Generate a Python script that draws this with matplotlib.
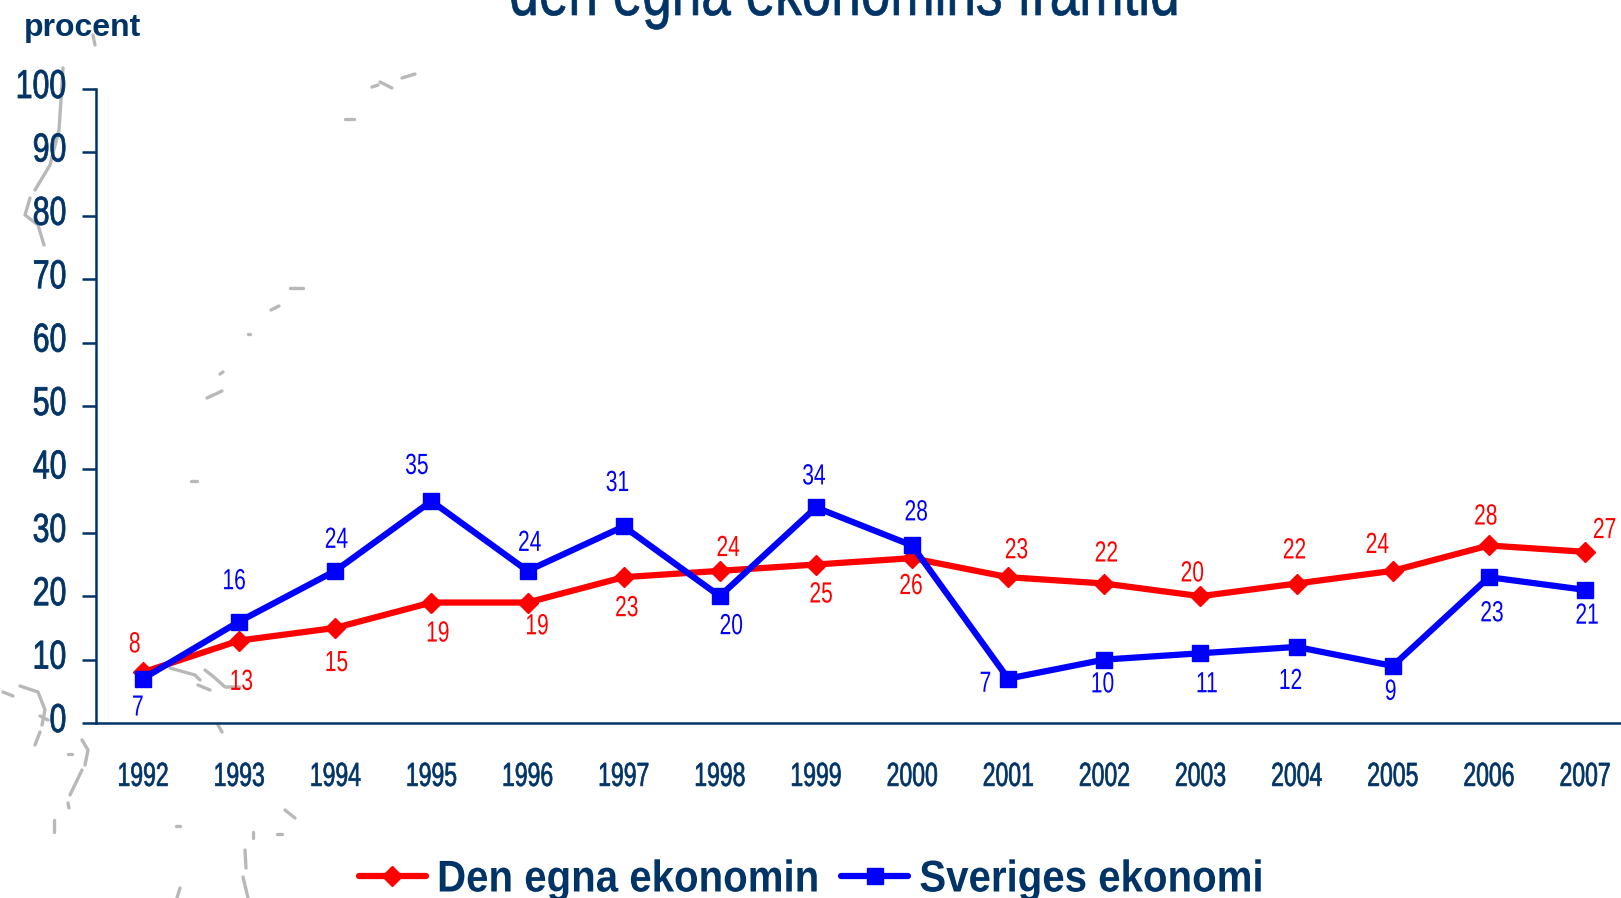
import matplotlib
matplotlib.use("Agg")
import matplotlib.pyplot as plt
from matplotlib.patheffects import AbstractPathEffect
from matplotlib.transforms import Affine2D, ScaledTranslation

years = list(range(1992, 2008))
egna = [8, 13, 15, 19, 19, 23, 24, 25, 26, 23, 22, 20, 22, 24, 28, 27]
sverige = [7, 16, 24, 35, 24, 31, 20, 34, 28, 7, 10, 11, 12, 9, 23, 21]
yticks = list(range(0, 101, 10))

# label offsets from each point, in pixels of the shrunk view
egna_off = [(-8, 27), (2, -40), (1, -34), (6, -30), (9, -23), (3, -30), (8, 22), (5, -29),
            (-1, -27), (8, 26), (2, 29), (-8, 22), (-2, 32), (-15, 25), (-3, 28), (19, 21)]
sverige_off = [(-5, -28), (-5, 39), (1, 30), (-14, 34), (2, 27), (-6, 42), (11, -29), (-2, 30),
               (4, 32), (-22, -5), (-2, -24), (6, -30), (-6, -33), (-2, -25), (3, -35), (2, -25)]

# faint map fragments behind the chart (decoration, pixel coordinates)
map_bits = [
    [(93, 35), (95, 45)], [(63, 68), (61, 100), (59, 130), (50, 165), (35, 190)],
    [(30, 198), (25, 215), (38, 225), (44, 245)], [(372, 87), (378, 85)], [(380, 82), (392, 88)],
    [(402, 78), (415, 74)], [(345, 119), (354, 119)], [(290, 288), (303, 288)],
    [(271, 310), (279, 306)], [(248, 334), (250, 334)], [(207, 398), (222, 391)],
    [(191, 481), (197, 481)], [(220, 374), (223, 372)],
    [(3, 692), (13, 696)], [(20, 686), (38, 692), (45, 710), (42, 725)], [(40, 716), (48, 720)],
    [(40, 732), (35, 745)], [(82, 740), (88, 750), (85, 765)], [(68, 754), (72, 754)],
    [(82, 770), (70, 795)], [(68, 803), (69, 808)], [(54, 820), (54, 832)],
    [(170, 668), (195, 675), (200, 680)], [(205, 670), (215, 678), (225, 687), (240, 687)],
    [(198, 685), (210, 690)], [(218, 725), (222, 732)], [(285, 810), (295, 818)],
    [(176, 826), (180, 826)], [(253, 832), (253, 838)], [(277, 834), (282, 834)],
    [(245, 850), (246, 868)], [(243, 877), (248, 898)], [(180, 888), (177, 898)],
]

NAVY = "#003366"
RED = "#ff0000"
BLUE = "#0000ff"
FONT = "Liberation Sans"
W, H = 1621, 898
SCALE = W / 1568


class Squeeze(AbstractPathEffect):
    """Draw text narrower, about its left, centre or right edge, with an optional thin stroke."""

    def __init__(self, sx, pivot, stroke=0.0):
        super().__init__()
        self.sx = sx
        self.pivot = pivot
        self.stroke = stroke

    def draw_path(self, renderer, gc, tpath, affine, rgbFace=None):
        box = tpath.get_extents(affine)
        cx = {"left": box.x0, "center": (box.x0 + box.x1) / 2, "right": box.x1}[self.pivot]
        squeezed = affine + Affine2D().translate(-cx, 0).scale(self.sx, 1).translate(cx, 0)
        gc0 = renderer.new_gc()
        gc0.copy_properties(gc)
        if self.stroke:
            gc0.set_foreground(rgbFace)
            gc0.set_linewidth(self.stroke)
        renderer.draw_path(gc0, tpath, squeezed, rgbFace)
        gc0.restore()


fig = plt.figure(figsize=(W / 100, H / 100), dpi=100, facecolor="white")

bg = fig.add_axes([0, 0, 1, 1], zorder=0)
bg.set_xlim(0, W)
bg.set_ylim(H, 0)
bg.axis("off")
for bit in map_bits:
    bg.plot([p[0] for p in bit], [p[1] for p in bit], color="#b8b8b8", lw=2.4,
            solid_capstyle="round")

left, right, top, bottom = 96, W, 89, 723
ax = fig.add_axes([left / W, 1 - bottom / H, (right - left) / W, (bottom - top) / H], zorder=1)
ax.patch.set_alpha(0)
step = (1585 - 143) / 15
ax.set_xlim(1992 - (143 - left) / step, 1992 + (W - 143) / step)
ax.set_ylim(0, 100)

for s in ("top", "right"):
    ax.spines[s].set_visible(False)
for s in ("left", "bottom"):
    ax.spines[s].set_color(NAVY)
    ax.spines[s].set_linewidth(1.8)

ax.set_yticks(yticks)
ax.set_xticks(years)
ax.tick_params(axis="y", length=10, width=1.8, color=NAVY, labelcolor=NAVY, labelsize=29, pad=11)
ax.tick_params(axis="x", length=0, labelcolor=NAVY, labelsize=24, pad=28)
up = ScaledTranslation(0, 6 / 100, fig.dpi_scale_trans)
for t in ax.get_yticklabels():
    t.set_fontfamily(FONT)
    t.set_transform(t.get_transform() + up)
    t.set_path_effects([Squeeze(0.75, "right", stroke=0.6)])
for t in ax.get_xticklabels():
    t.set_fontfamily(FONT)
    t.set_path_effects([Squeeze(0.69, "center", stroke=0.5)])

h1, = ax.plot(years, egna, color=RED, lw=4.5, marker="D", ms=10, clip_on=False, zorder=3,
              solid_capstyle="round", label="Den egna ekonomin")
h2, = ax.plot(years, sverige, color=BLUE, lw=4.5, marker="s", ms=11, clip_on=False, zorder=4,
              solid_capstyle="round", label="Sveriges ekonomi")

for vals, offs, col in ((egna, egna_off, RED), (sverige, sverige_off, BLUE)):
    for x, v, (dx, dy) in zip(years, vals, offs):
        ax.annotate(str(v), (x, v), xytext=(dx * SCALE, dy * SCALE), textcoords="offset pixels",
                    ha="center", va="center", color=col, fontsize=21, family=FONT,
                    annotation_clip=False, zorder=5,
                    path_effects=[Squeeze(0.72, "center")])

leg = fig.legend(handles=[h1, h2], ncol=2, frameon=False, loc="center left",
                 bbox_to_anchor=(359 / W, 1 - 880 / H),
                 prop={"family": FONT, "weight": "bold", "size": 32},
                 labelcolor=NAVY, handlelength=1.5, handletextpad=0.25, columnspacing=-0.41,
                 borderpad=0, borderaxespad=0)
for t, sx in zip(leg.get_texts(), (0.905, 0.905)):
    t.set_path_effects([Squeeze(sx, "left")])

bg.text(24, 36, "procent", color=NAVY, fontsize=23, fontweight="bold",
        family=FONT, ha="left", va="baseline")
bg.text(845, 15, "den egna ekonomins framtid", color=NAVY, fontsize=50, family=FONT,
        ha="center", va="baseline", clip_on=False, path_effects=[Squeeze(0.765, "center", stroke=0.5)])

fig.savefig("out.png", dpi=100)
